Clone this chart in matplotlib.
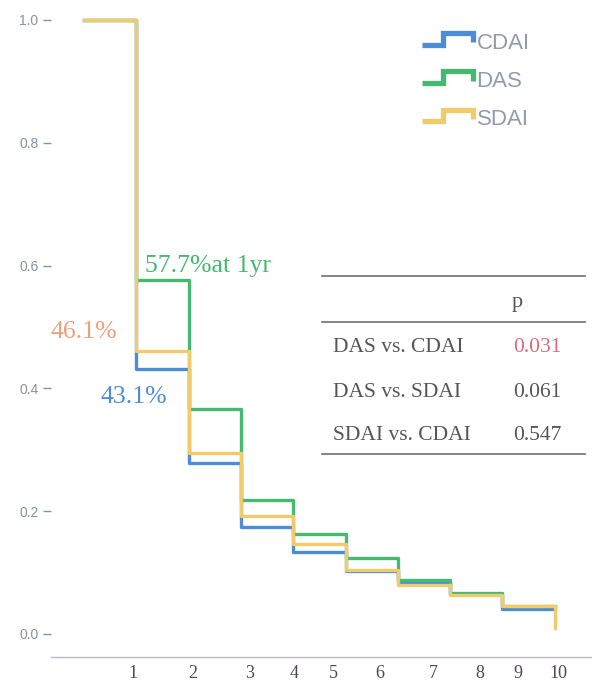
import matplotlib
matplotlib.use('Agg')
import matplotlib.pyplot as plt
from matplotlib.legend_handler import HandlerBase
from matplotlib.lines import Line2D

# retention curves, one value per yearly interval
years = [0, 1, 2, 3, 4, 5, 6, 7, 8, 9]
cdai = [1.0, 0.431, 0.278, 0.174, 0.133, 0.103, 0.085, 0.065, 0.041]
das = [1.0, 0.577, 0.367, 0.219, 0.163, 0.124, 0.088, 0.067, 0.046]
sdai = [1.0, 0.461, 0.294, 0.192, 0.146, 0.104, 0.080, 0.063, 0.046]
sdai_last = 0.010

x_tick_pos = [0.94, 2.08, 3.17, 4.02, 4.76, 5.66, 6.67, 7.57, 8.30, 9.08]
x_tick_labels = ['1', '2', '3', '4', '5', '6', '7', '8', '9', '10']
y_ticks = [0.0, 0.2, 0.4, 0.6, 0.8, 1.0]

comparisons = ['DAS vs. CDAI', 'DAS vs. SDAI', 'SDAI vs. CDAI']
p_values = ['0.031', '0.061', '0.547']

BLUE = '#4b8dd6'
GREEN = '#45b96f'
YELLOW = '#f1ca6c'
SALMON = '#ef9f7c'
SERIF = 'Liberation Serif'
SANS = 'Liberation Sans'


class StepHandler(HandlerBase):
    # small staircase glyph for the legend
    def create_artists(self, legend, orig_handle, xdescent, ydescent,
                       width, height, fontsize, trans):
        xs = [-xdescent, -xdescent + 0.4 * width, -xdescent + 0.4 * width,
              -xdescent + width, -xdescent + width]
        ys = [0.25 * height, 0.25 * height, 1.0 * height, 1.0 * height, 0.4 * height]
        ln = Line2D(xs, ys, color=orig_handle.get_color(), lw=3.8,
                    solid_capstyle='butt', solid_joinstyle='miter', transform=trans)
        return [ln]


def main():
    fig = plt.figure(figsize=(5.92, 6.84), dpi=100)
    ax = fig.add_axes([51 / 592, 27 / 684, 541 / 592, 649 / 684])

    l_cdai, = ax.step(years, cdai + [cdai[-1]], where='post', color=BLUE, lw=2.4)
    l_das, = ax.step(years, das + [das[-1]], where='post', color=GREEN, lw=2.4)
    l_sdai, = ax.step(years + [years[-1]], sdai + [sdai[-1], sdai_last],
                      where='post', color=YELLOW, lw=2.4)

    ax.set_xlim(-0.631, 9.713)
    ax.set_ylim(-0.0375, 1.0195)

    for side in ['left', 'right', 'top']:
        ax.spines[side].set_visible(False)
    ax.spines['bottom'].set_color('#c4b4c4')
    ax.spines['bottom'].set_linewidth(1.0)

    ax.set_xticks(x_tick_pos)
    ax.set_xticklabels(x_tick_labels, fontfamily=SERIF, fontsize=13, color='#4a4a4a')
    ax.tick_params(axis='x', length=0, pad=6)
    ax.set_yticks(y_ticks)
    ax.set_yticklabels(['{:.1f}'.format(v) for v in y_ticks], fontfamily=SANS,
                       fontsize=10, color='#8a90a2')
    ax.tick_params(axis='y', length=6, width=1.0, color='#8a90a2', pad=3, direction='out')

    # value callouts at 1 yr
    ax.text(1.17, 0.600, '{:.1f}%at 1yr'.format(das[1] * 100), color=GREEN,
            fontfamily=SERIF, fontsize=18.5, ha='left', va='center')
    ax.text(0.0, 0.492, '{:.1f}%'.format(sdai[1] * 100), color=SALMON,
            fontfamily=SERIF, fontsize=18.5, ha='center', va='center')
    ax.text(0.946, 0.386, '{:.1f}%'.format(cdai[1] * 100), color=BLUE,
            fontfamily=SERIF, fontsize=18.5, ha='center', va='center')

    # p-value table
    for fy in [0.587, 0.516, 0.313]:
        ax.plot([0.501, 0.987], [fy, fy], transform=ax.transAxes, color='#6f6f6f',
                lw=1.2, clip_on=False)
    ax.text(0.861, 0.539, 'p', transform=ax.transAxes, fontfamily=SERIF, fontsize=16,
            color='#555555', ha='center', va='baseline')
    row_y = [0.470, 0.4006, 0.334]
    for name, p, fy in zip(comparisons, p_values, row_y):
        ax.text(0.521, fy, name, transform=ax.transAxes, fontfamily=SERIF, fontsize=15.5,
                color='#555555', ha='left', va='baseline')
        pc = '#e0677a' if float(p) < 0.05 else '#555555'
        ax.text(0.854, fy, p, transform=ax.transAxes, fontfamily=SERIF, fontsize=15.5,
                color=pc, ha='left', va='baseline')

    leg = ax.legend([l_cdai, l_das, l_sdai], ['CDAI', 'DAS', 'SDAI'],
                    handler_map={Line2D: StepHandler()},
                    loc='upper left', bbox_to_anchor=(0.686, 0.962), frameon=False,
                    borderpad=0, borderaxespad=0, handlelength=2.3, handletextpad=0.15,
                    labelspacing=0.78, prop={'family': SANS, 'size': 16})
    for t in leg.get_texts():
        t.set_color('#9499ad')

    fig.savefig('out.png', dpi=100, facecolor='white')
    plt.close(fig)


if __name__ == '__main__':
    main()
